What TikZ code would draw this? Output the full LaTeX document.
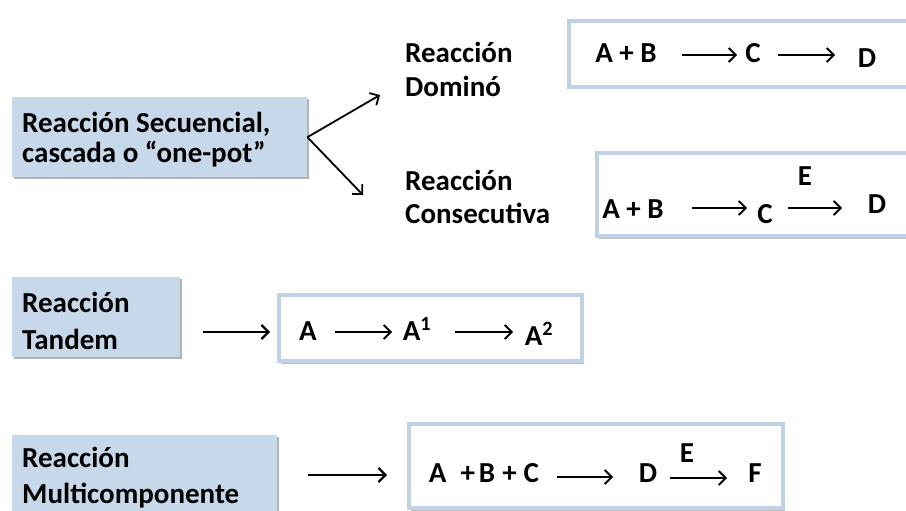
\documentclass[tikz,border=0pt]{standalone}
\usepackage{fontspec}
\setmainfont{Carlito}
\usetikzlibrary{arrows.meta,shadows}
\definecolor{boxblue}{HTML}{C6D8E9}
\definecolor{frameblue}{HTML}{BFD1E4}
\tikzset{
  catbox/.style={fill=boxblue, draw=none, inner sep=0pt, anchor=north west,
    drop shadow={shadow xshift=2pt, shadow yshift=-2pt, opacity=0.3, fill=black}},
  chembox/.style={draw=frameblue, line width=4pt, fill=white, inner sep=0pt, anchor=north west,
    drop shadow={shadow xshift=1.5pt, shadow yshift=-2.5pt, opacity=0.25, fill=black}},
  lbl/.style={inner sep=0pt, anchor=base west, align=left},
  sp/.style={font=\bfseries\fontsize{29}{34}\selectfont, inner sep=0pt, anchor=base},
  rx/.style={-{Straight Barb[length=7pt,width=14pt]}, line width=1.8pt},
  bigrx/.style={-{Straight Barb[length=7pt,width=14pt]}, line width=2.2pt},
}
\newcommand{\lblfont}[1]{\bfseries\fontsize{29}{#1}\selectfont}
\begin{document}
\begin{tikzpicture}[x=1pt,y=-1pt]
\useasboundingbox (0,0) rectangle (906,511);
\clip (0,0) rectangle (906,511);
\fill[white] (0,0) rectangle (906,511);

% category boxes
\node[catbox, minimum width=295pt, minimum height=80pt] (sec) at (12,97) {};
\node[catbox, minimum width=168pt, minimum height=80pt] (tan) at (12,277) {};
\node[catbox, minimum width=265pt, minimum height=100pt] (mul) at (12,435) {};

\node[lbl, font=\lblfont{30}] (secT) at (22,162) {Reacción Secuencial,\\cascada o “one-pot”};
\node[lbl, font=\lblfont{37}] (tanT) at (22,349) {Reacción\\Tandem};
\node[lbl, font=\lblfont{36}] (mulT) at (22,503) {Reacción\\Multicomponente};

\node[lbl, font=\lblfont{35}] (domT) at (405,97) {Reacción\\Dominó};
\node[lbl, font=\lblfont{33}] (conT) at (405,223) {Reacción\\Consecutiva};

% chemistry boxes
\node[chembox, minimum width=380pt, minimum height=66pt] (domB) at (567,19) {};
\node[chembox, minimum width=360pt, minimum height=83pt] (conB) at (595,151) {};
\node[chembox, minimum width=303pt, minimum height=66pt] (tanB) at (277,293) {};
\node[chembox, minimum width=374pt, minimum height=84pt] (mulB) at (407,422) {};

% branch arrows
\coordinate (brUp) at (380,95);
\coordinate (brDn) at (363,195);
\draw[rx] (sec.east) -- (brUp);
\draw[rx] (sec.east) -- (brDn);

% tandem and multicomponent arrows
\coordinate (tanA) at (203,332);
\coordinate (tanZ) at (270,332);
\draw[bigrx] (tanA) -- (tanZ);
\coordinate (mulA) at (308,475);
\coordinate (mulZ) at (387,475);
\draw[bigrx] (mulA) -- (mulZ);

% Domino
\node[sp] (d1) at (626,63) {A + B};
\node[sp] (d2) at (753,63) {C};
\node[sp] (d3) at (867,68) {D};
\coordinate (d1a) at (682,55); \coordinate (d1b) at (737,55);
\coordinate (d2a) at (778,55); \coordinate (d2b) at (835,55);
\draw[rx] (d1a) -- (d1b);
\draw[rx] (d2a) -- (d2b);

% Consecutiva
\node[sp] (c1) at (633,218) {A + B};
\node[sp] (c2) at (765,223) {C};
\node[sp] (c4) at (805,185) {E};
\node[sp] (c3) at (877,213) {D};
\coordinate (c1a) at (692,208); \coordinate (c1b) at (747,208);
\coordinate (c2a) at (788,208); \coordinate (c2b) at (842,208);
\draw[rx] (c1a) -- (c1b);
\draw[rx] (c2a) -- (c2b);

% Tandem
\node[sp] (t1) at (308,340) {A};
\node[sp] (t2) at (417,340) {A\textsuperscript{1}};
\node[sp] (t3) at (539,345) {A\textsuperscript{2}};
\coordinate (t1a) at (335,332); \coordinate (t1b) at (392,332);
\coordinate (t2a) at (455,332); \coordinate (t2b) at (513,332);
\draw[rx] (t1a) -- (t1b);
\draw[rx] (t2a) -- (t2b);

% Multicomponente
\node[sp] (m1) at (484,482) {A\hspace{14pt}+\hspace{4pt}B\hspace{7pt}+\hspace{7pt}C};
\node[sp] (m2) at (648,482) {D};
\node[sp] (m4) at (687,462) {E};
\node[sp] (m3) at (755,482) {F};
\coordinate (m1a) at (557,477); \coordinate (m1b) at (613,477);
\coordinate (m2a) at (670,478); \coordinate (m2b) at (727,478);
\draw[rx] (m1a) -- (m1b);
\draw[rx] (m2a) -- (m2b);
\end{tikzpicture}
\end{document}
